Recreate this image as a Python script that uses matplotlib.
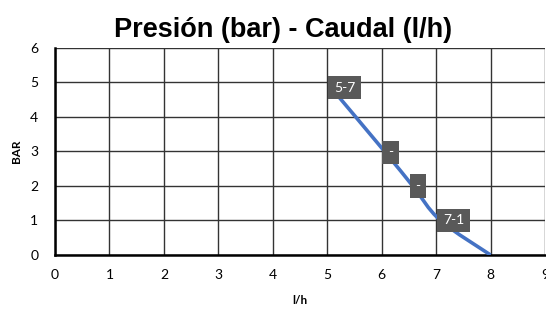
import matplotlib.pyplot as plt
from matplotlib.path import Path
from matplotlib.patches import PathPatch

plt.rcParams['font.family'] = ['Lato', 'DejaVu Sans']

# datos
caudal = [5.07, 6.07, 6.57, 7.08, 8.0]
presion = [4.85, 2.97, 2.0, 1.0, 0.0]
etiquetas = ['5-7', '-', '-', '7-1', '']
x_ticks = [0, 1, 2, 3, 4, 5, 6, 7, 8, 9]
y_ticks = [0, 1, 2, 3, 4, 5, 6]

fig = plt.figure(figsize=(5.46, 3.09), dpi=100)
ax = fig.add_axes([0.1007, 0.1748, 0.8975, 0.67])

# linea suavizada tipo Excel (curvas de Bezier)
pts = list(zip(caudal, presion))
verts = [pts[0]]
codes = [Path.MOVETO]
n = len(pts)
for i in range(n - 1):
    p0 = pts[i - 1] if i > 0 else pts[i]
    p1 = pts[i]
    p2 = pts[i + 1]
    p3 = pts[i + 2] if i + 2 < n else pts[i + 1]
    c1 = (p1[0] + (p2[0] - p0[0]) / 6, p1[1] + (p2[1] - p0[1]) / 6)
    c2 = (p2[0] - (p3[0] - p1[0]) / 6, p2[1] - (p3[1] - p1[1]) / 6)
    verts += [c1, c2, p2]
    codes += [Path.CURVE4] * 3
ax.add_patch(PathPatch(Path(verts, codes), fill=False, edgecolor='#4472C4',
                       lw=2.6, capstyle='butt', zorder=3))

for x, y, t in zip(caudal, presion, etiquetas):
    if t:
        ax.annotate(t, (x, y), xytext=(2, 0), textcoords='offset points',
                    ha='left', va='center', color='white', fontsize=10,
                    bbox=dict(boxstyle='square,pad=0.42', fc='#595959', ec='none'),
                    zorder=4)

ax.set_xlim(0, 9)
ax.set_ylim(0, 6)
ax.set_xticks(x_ticks)
ax.set_yticks(y_ticks)
ax.tick_params(length=0, labelsize=10)
ax.tick_params(axis='x', pad=10)
ax.tick_params(axis='y', pad=12)
ax.grid(True, color='#333333', lw=1.0)
ax.set_axisbelow(True)
for s in ['top', 'right']:
    ax.spines[s].set_visible(False)
for s in ['left', 'bottom']:
    ax.spines[s].set_linewidth(1.8)
    ax.spines[s].set_color('black')

ax.set_xlabel('l/h', fontsize=8.5, fontweight='bold', labelpad=10)
ax.set_ylabel('BAR', fontsize=8.5, fontweight='bold', labelpad=6)

fig.text(0.518, 0.879, 'Presión (bar) - Caudal (l/h)', ha='center', va='baseline',
         fontsize=19.5, fontweight='bold', family=['Liberation Sans', 'DejaVu Sans'])

fig.savefig('out.png', dpi=100)
